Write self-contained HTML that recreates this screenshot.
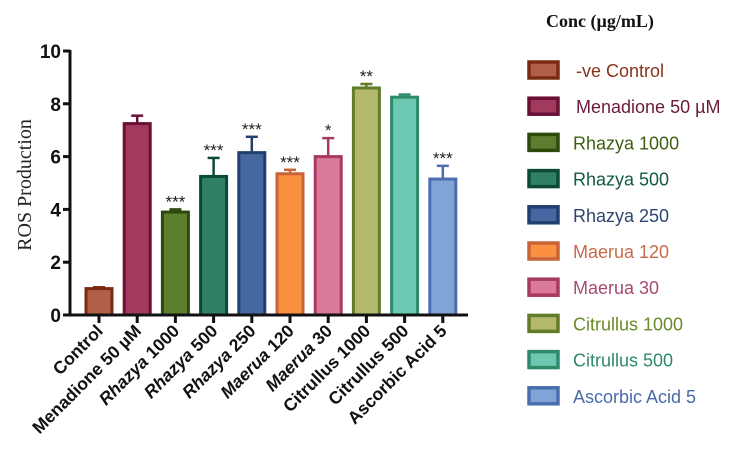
<!DOCTYPE html>
<html><head><meta charset="utf-8"><style>
body{margin:0;background:#fff;width:755px;height:476px;overflow:hidden}
svg{display:block}
</style></head><body>
<svg id="c" width="755" height="476"></svg>
<script>
const categories=["Control","Menadione 50 µM","Rhazya 1000","Rhazya 500","Rhazya 250","Maerua 120","Maerua 30","Citrullus 1000","Citrullus 500","Ascorbic Acid 5"];
const legendLabels=["-ve Control","Menadione 50 µM","Rhazya 1000","Rhazya 500","Rhazya 250","Maerua 120","Maerua 30","Citrullus 1000","Citrullus 500","Ascorbic Acid 5"];
const values=[1.0,7.25,3.9,5.25,6.15,5.35,6.0,8.6,8.25,5.15];
const errors=[0.05,0.3,0.1,0.7,0.6,0.15,0.7,0.15,0.1,0.5];
const stars=["","","***","***","***","***","*","**","","***"];
const yTicks=[0,2,4,6,8,10];
const fills=["#b0604a","#a33a5e","#5e7d2e","#2f8066","#44689f","#fb9040","#db7a98","#b3b86a","#6cc8b0","#80a4d6"];
const strokes=["#7a2a10","#6a0f35","#2d4a0e","#0d4a35","#213f6e","#c8643a","#a83a62","#617d2a","#2f8a6a","#4a6eb0"];
const textCols=["#8a3318","#6a1a3a","#3d5e12","#135a42","#2e4670","#c86a4a","#a64a72","#6a8a2a","#2f8a6a","#4a6aa8"];
const NS="http://www.w3.org/2000/svg";
const svg=document.getElementById('c');
function mk(t,a,p){const e=document.createElementNS(NS,t);for(const k in a)e.setAttribute(k,a[k]);(p||svg).appendChild(e);return e;}
const x0=70,y0=315,y1=51,xStart=99,step=38.2,bw=26;
const ys=v=>y0-(v/10)*(y0-y1);
const xs=i=>xStart+i*step;
categories.forEach((c,i)=>{
  const g=mk('g',{});
  
  
  const v=values[i],e=errors[i],cx=xs(i);
  mk('line',{x1:cx,x2:cx,y1:ys(v),y2:ys(v+e),stroke:strokes[i],'stroke-width':2.5},g);
  mk('line',{x1:cx-6,x2:cx+6,y1:ys(v+e),y2:ys(v+e),stroke:strokes[i],'stroke-width':2.5},g);
  mk('rect',{x:cx-bw/2,y:ys(v),width:bw,height:y0-ys(v),fill:fills[i],stroke:strokes[i],'stroke-width':3},g);
  if(stars[i]){const t=mk('text',{x:cx,y:ys(v+e)-2,'text-anchor':'middle','font-family':'Liberation Sans, sans-serif','font-size':17,fill:'#222'},g);t.textContent=stars[i];
    
    }
});
const ax=mk('g',{});


mk('line',{x1:x0,x2:x0,y1:y1-1,y2:y0+1.5,stroke:'#111','stroke-width':3},ax);
mk('line',{x1:x0-1,x2:468,y1:y0,y2:y0,stroke:'#111','stroke-width':3},ax);
yTicks.forEach(v=>{
  mk('line',{x1:x0-7,x2:x0,y1:ys(v),y2:ys(v),stroke:'#111','stroke-width':3},ax);
  const t=mk('text',{x:x0-9,y:ys(v)+7,'text-anchor':'end','font-family':'Liberation Sans, sans-serif','font-weight':'bold','font-size':19,fill:'#111'},ax);
  t.textContent=v;
  
  
});
categories.forEach((c,i)=>{
  const cx=xs(i);
  mk('line',{x1:cx,x2:cx,y1:y0,y2:y0+8,stroke:'#111','stroke-width':3},ax);
  const t=mk('text',{x:0,y:0,transform:`translate(${cx+5},${y0+17}) rotate(-45)`,'text-anchor':'end','font-family':'Liberation Sans, sans-serif','font-weight':'bold','font-size':17.5,fill:'#111'},ax);
  const parts=c.split(' ');
  if(parts[0]==='Rhazya'||parts[0]==='Maerua'){
    const a=mk('tspan',{'font-style':'italic'},t);a.textContent=parts[0];
    const b=mk('tspan',{},t);b.textContent=' '+parts.slice(1).join(' ');
  } else t.textContent=c;
  
  
});
const yt=mk('text',{x:0,y:0,transform:'translate(31,185) rotate(-90)','text-anchor':'middle','font-family':'Liberation Serif, serif','font-size':20,fill:'#222'});
yt.textContent='ROS Production';


const lg=mk('g',{});


const lt=mk('text',{x:546,y:27,'font-family':'Liberation Serif, serif','font-weight':'bold','font-size':18,fill:'#111'},lg);
lt.textContent='Conc (µg/mL)';


legendLabels.forEach((l,i)=>{
  const cy=70+i*36.2;
  const g=mk('g',{},lg);
  
  
  mk('rect',{x:529,y:cy-8,width:29,height:16,fill:fills[i],stroke:strokes[i],'stroke-width':3.5},g);
  const t=mk('text',{x:i<2?576:573,y:cy+7,'font-family':'Liberation Sans, sans-serif','font-size':18,fill:textCols[i]},g);
  t.textContent=l;
});
</script>
</body></html>
